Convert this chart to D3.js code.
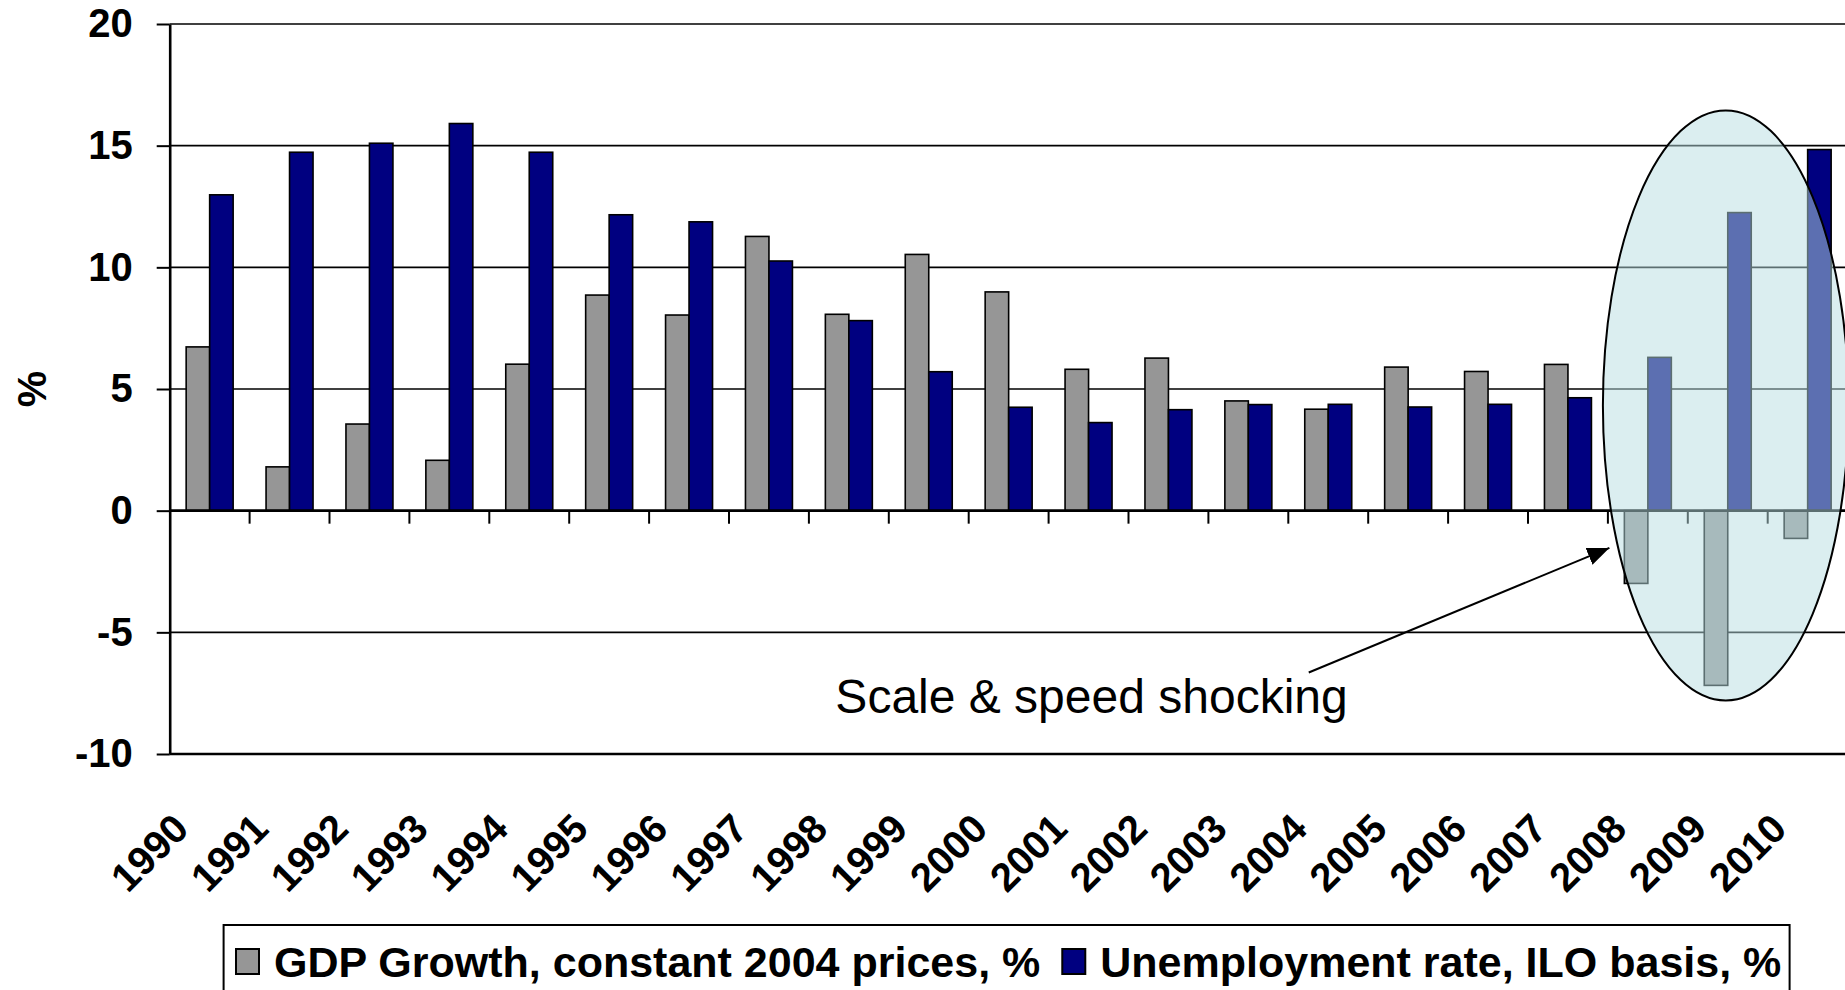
<!DOCTYPE html>
<html>
<head>
<meta charset="utf-8">
<script src="https://cdn.jsdelivr.net/npm/d3@7"></script>
<style>
  html, body { margin: 0; padding: 0; background: #fff; overflow: hidden; }
  svg { display: block; font-family: "Liberation Sans", Arial, sans-serif; }
</style>
</head>
<body>
<div class="canvas"></div>
<script>
// values
const years = ["1990", "1991", "1992", "1993", "1994", "1995", "1996", "1997", "1998", "1999", "2000",
  "2001", "2002", "2003", "2004", "2005", "2006", "2007", "2008", "2009", "2010"];
const gdpGrowth = [6.73, 1.80, 3.56, 2.07, 6.02, 8.86, 8.04, 11.27, 8.07, 10.53, 8.99,
  5.81, 6.27, 4.51, 4.17, 5.90, 5.72, 6.01, -2.99, -7.18, -1.14];
const unemployment = [12.98, 14.73, 15.10, 15.91, 14.73, 12.16, 11.87, 10.26, 7.81, 5.71, 4.25,
  3.62, 4.15, 4.36, 4.37, 4.26, 4.37, 4.64, 6.30, 12.25, 14.84];
const yTicks = [-10, -5, 0, 5, 10, 15, 20];
const seriesNames = ["GDP Growth, constant 2004 prices, %", "Unemployment rate, ILO basis, %"];
const seriesColors = ["#969696", "#000080"];
const yLabel = "%";
const noteText = "Scale & speed shocking";

const width = 1845;
const height = 990;

const plotLeft = 169.7;
const step = 79.9;
const plotRight = plotLeft + step * years.length;

const svg = d3
  .select(".canvas")
  .append("svg")
  .attr("width", width)
  .attr("height", height);

const x = d3
  .scaleBand()
  .domain(years)
  .range([plotLeft, plotRight])
  .paddingInner(0.412)
  .paddingOuter(0.206);

const inner = d3.scaleBand().domain(d3.range(seriesNames.length)).range([0, x.bandwidth()]);

const y = d3.scaleLinear().domain([-10, 20]).range([754, 24]);

const rows = years.map((year, i) => ({ year, values: [gdpGrowth[i], unemployment[i]] }));

// gridlines
svg
  .append("g")
  .selectAll("line")
  .data(yTicks.filter((t) => t !== 0))
  .enter()
  .append("line")
  .attr("x1", plotLeft)
  .attr("x2", plotRight)
  .attr("y1", (t) => y(t))
  .attr("y2", (t) => y(t))
  .attr("stroke", "#000")
  .attr("stroke-width", (t) => (t === -10 ? 2.6 : 1.7));

// bars
const group = svg
  .append("g")
  .selectAll("g")
  .data(rows)
  .enter()
  .append("g")
  .attr("transform", (d) => `translate(${x(d.year)},0)`);

group
  .selectAll("rect")
  .data((d) => d.values)
  .enter()
  .append("rect")
  .attr("x", (v, i) => inner(i))
  .attr("width", inner.bandwidth())
  .attr("y", (v) => Math.min(y(v), y(0)))
  .attr("height", (v) => Math.abs(y(v) - y(0)))
  .attr("fill", (v, i) => seriesColors[i])
  .attr("stroke", "#000")
  .attr("stroke-width", 1.6);

// x axis line at zero + ticks between categories
svg
  .append("line")
  .attr("x1", plotLeft)
  .attr("x2", plotRight)
  .attr("y1", y(0))
  .attr("y2", y(0))
  .attr("stroke", "#000")
  .attr("stroke-width", 2.6);

const gap = (x.step() - x.bandwidth()) / 2;
svg
  .append("g")
  .selectAll("line")
  .data(years.slice(1))
  .enter()
  .append("line")
  .attr("x1", (d) => x(d) - gap)
  .attr("x2", (d) => x(d) - gap)
  .attr("y1", y(0))
  .attr("y2", y(0) + 13)
  .attr("stroke", "#000")
  .attr("stroke-width", 2);

// y axis
const yAxis = svg
  .append("g")
  .attr("transform", `translate(${plotLeft},0)`)
  .call(
    d3
      .axisLeft(y)
      .tickValues(yTicks)
      .tickFormat((d) => String(d))
      .tickSize(13)
      .tickSizeOuter(0)
      .tickPadding(24)
  );

yAxis.select(".domain").attr("stroke", "#000").attr("stroke-width", 2.6);
yAxis.selectAll(".tick line").attr("stroke", "#000").attr("stroke-width", 2);
yAxis
  .selectAll(".tick text")
  .attr("fill", "#000")
  .style("font-family", '"Liberation Sans", Arial, sans-serif')
  .style("font-size", "40px")
  .style("font-weight", "bold");

svg
  .append("text")
  .text(yLabel)
  .attr("transform", "translate(46,389) rotate(-90)")
  .attr("text-anchor", "middle")
  .style("font-size", "41px")
  .style("font-weight", "bold");

// category labels
svg
  .append("g")
  .selectAll("text")
  .data(years)
  .enter()
  .append("text")
  .text((d) => d)
  .attr("transform", (d) => `translate(${x(d) + x.bandwidth() / 2 - 19},831) rotate(-45)`)
  .attr("text-anchor", "end")
  .style("font-size", "40px")
  .style("font-weight", "bold");

// highlight ellipse over the crisis years
const eLeft = x("2008") - gap;
const eRight = x("2010") + x.bandwidth() + gap;
svg
  .append("ellipse")
  .attr("cx", (eLeft + eRight) / 2 - 2)
  .attr("cy", (y(16.45) + y(-7.8)) / 2)
  .attr("rx", (eRight - eLeft) / 2 + 3)
  .attr("ry", (y(-7.8) - y(16.45)) / 2)
  .attr("fill", "rgb(183,221,225)")
  .attr("fill-opacity", 0.5)
  .attr("stroke", "#000")
  .attr("stroke-width", 2);

// annotation arrow + text
svg
  .append("defs")
  .append("marker")
  .attr("id", "arrow")
  .attr("markerUnits", "userSpaceOnUse")
  .attr("markerWidth", 24)
  .attr("markerHeight", 20)
  .attr("refX", 22)
  .attr("refY", 9)
  .attr("orient", "auto")
  .append("path")
  .attr("d", "M0,0 L22,9 L0,18 Z")
  .attr("fill", "#000");

svg
  .append("line")
  .attr("x1", x("2004") + 4)
  .attr("y1", y(-6.65))
  .attr("x2", x("2008") - 15)
  .attr("y2", y(-1.53))
  .attr("stroke", "#000")
  .attr("stroke-width", 2)
  .attr("marker-end", "url(#arrow)");

svg
  .append("text")
  .text(noteText)
  .attr("x", x("1998") + 10)
  .attr("y", y(-8.3))
  .style("font-size", "48px");

// legend
svg
  .append("rect")
  .attr("x", 223.6)
  .attr("y", 925)
  .attr("width", 1566)
  .attr("height", 120)
  .attr("fill", "#fff")
  .attr("stroke", "#000")
  .attr("stroke-width", 2);

let lx = 236;
seriesNames.forEach((name, i) => {
  svg
    .append("rect")
    .attr("x", lx)
    .attr("y", 949)
    .attr("width", 23)
    .attr("height", 25)
    .attr("fill", seriesColors[i])
    .attr("stroke", "#000")
    .attr("stroke-width", 2);
  const t = svg
    .append("text")
    .text(name)
    .attr("x", lx + 38)
    .attr("y", 977)
    .style("font-size", "43px")
    .style("font-weight", "bold");
  lx = lx + 38 + t.node().getComputedTextLength() + 22;
});
</script>
</body>
</html>
